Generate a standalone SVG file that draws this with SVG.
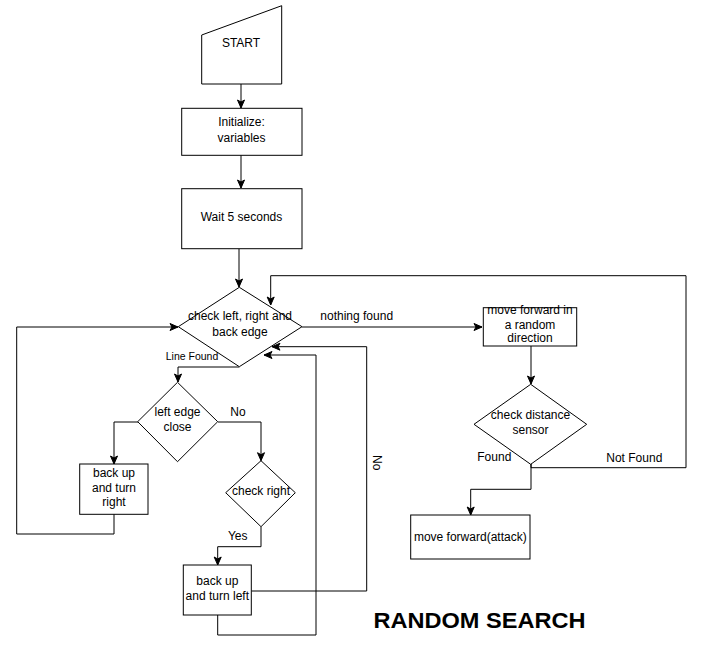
<svg xmlns="http://www.w3.org/2000/svg" width="711" height="660" viewBox="0 0 711 660">
<style>
.n{fill:#fff;stroke:#000;stroke-width:1}
.t{font-family:"Liberation Sans",Arial,sans-serif;font-size:12px;fill:#000;text-anchor:middle}
.e{fill:none;stroke:#000;stroke-width:1}
</style>
<defs>
<marker id="a" markerUnits="userSpaceOnUse" markerWidth="10" markerHeight="10" viewBox="0 0 10 10" refX="9" refY="5" orient="auto">
<path d="M1,1.5 L9,5 L1,8.5 L3,5 Z" fill="#000" stroke="#000" stroke-width="1"/>
</marker>
</defs>
<rect width="711" height="660" fill="#fff"/>
<g id="connectors">
<path class="e" d="M241,84 V108" marker-end="url(#a)"/>
<path class="e" d="M241,155 V188" marker-end="url(#a)"/>
<path class="e" d="M239,249 V287" marker-end="url(#a)"/>
<path class="e" d="M302,327 H482" marker-end="url(#a)"/>
<path class="e" d="M531,346 V384" marker-end="url(#a)"/>
<path class="e" d="M531,464 V467.7 H686 V275.7 H270.7 V305" marker-end="url(#a)"/>
<path class="e" d="M531,464 V489.3 H470.7 V515" marker-end="url(#a)"/>
<path class="e" d="M239.3,367 H178 V382" marker-end="url(#a)"/>
<path class="e" d="M138,422 H114 V464" marker-end="url(#a)"/>
<path class="e" d="M114,514 V534 H16.7 V327 H178" marker-end="url(#a)"/>
<path class="e" d="M218,422 H261 V460.7" marker-end="url(#a)"/>
<path class="e" d="M261,527 V546.7 H217.7 V565" marker-end="url(#a)"/>
<path class="e" d="M251.3,591 H366.7 V346.7 H272" marker-end="url(#a)"/>
<path class="e" d="M217.7,615 V635 H316 V355 H264" marker-end="url(#a)"/>
</g>
<g id="start">
<path class="n" d="M201.7,35 L281.7,5.7 V84 H201.7 Z"/>
<text class="t" x="241" y="47">START</text>
</g>
<g id="init">
<rect class="n" x="181.7" y="108.3" width="120.3" height="47"/>
<text class="t" x="241.5" y="126">Initialize:</text>
<text class="t" x="241.5" y="142">variables</text>
</g>
<g id="wait">
<rect class="n" x="181.7" y="188.7" width="120.3" height="60"/>
<text class="t" x="241.5" y="221">Wait 5 seconds</text>
</g>
<g id="check-edges">
<path class="n" d="M239.3,287.3 L302,326.7 L239.3,366.7 L178.3,326.7 Z"/>
<text class="t" x="240" y="320">check left, right and</text>
<text class="t" x="240" y="336">back edge</text>
</g>
<g id="left-edge">
<path class="n" d="M177.5,382.3 L217.7,421.7 L177.5,461.7 L137.7,421.7 Z"/>
<text class="t" x="177.5" y="416">left edge</text>
<text class="t" x="177.5" y="431">close</text>
</g>
<g id="turn-right">
<rect class="n" x="79.7" y="464" width="68.3" height="50.3"/>
<text class="t" x="114" y="477">back up</text>
<text class="t" x="114" y="492">and turn</text>
<text class="t" x="114" y="506">right</text>
</g>
<g id="check-right">
<path class="n" d="M261,460.7 L295.3,492.7 L261,526.7 L225.7,492.7 Z"/>
<text class="t" x="261" y="495">check right</text>
</g>
<g id="turn-left">
<rect class="n" x="183.3" y="565" width="68" height="50"/>
<text class="t" x="217.3" y="585">back up</text>
<text class="t" x="217.3" y="600">and turn left</text>
</g>
<g id="move-random">
<rect class="n" x="483.3" y="307.7" width="93.4" height="38.3"/>
<text class="t" x="530" y="314">move forward in</text>
<text class="t" x="530" y="329">a random</text>
<text class="t" x="530" y="342">direction</text>
</g>
<g id="check-distance">
<path class="n" d="M530.7,384.3 L586.7,424.3 L530.7,464.3 L474,424.3 Z"/>
<text class="t" x="530.5" y="419">check distance</text>
<text class="t" x="530.5" y="434">sensor</text>
</g>
<g id="attack">
<rect class="n" x="410.7" y="515" width="119.3" height="44"/>
<text class="t" x="470.3" y="541">move forward(attack)</text>
</g>
<g id="labels">
<text class="t" x="356.7" y="320">nothing found</text>
<text class="t" x="192" y="360" style="font-size:10.5px">Line Found</text>
<text class="t" x="238" y="416">No</text>
<text class="t" x="237.7" y="540">Yes</text>
<text class="t" transform="translate(376.7,462.7) rotate(90)" x="0" y="4">No</text>
<text class="t" x="494.3" y="461">Found</text>
<text class="t" x="634.3" y="462">Not Found</text>
<text x="479.5" y="628" style="font-family:'Liberation Sans',Arial,sans-serif;font-size:22px;font-weight:bold;text-anchor:middle" textLength="212" lengthAdjust="spacingAndGlyphs">RANDOM SEARCH</text>
</g>
</svg>
